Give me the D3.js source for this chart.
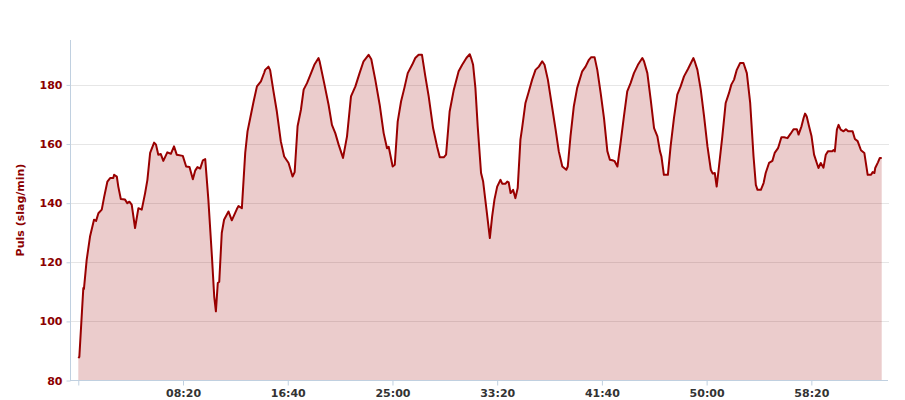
<!DOCTYPE html>
<html>
<head>
<meta charset="utf-8">
<script src="https://cdn.jsdelivr.net/npm/d3@7"></script>
<style>
  html, body { margin: 0; padding: 0; background: #fff; }
  svg { display: block; }
</style>
</head>
<body>
<svg id="chart" width="905" height="400"></svg>
<script>
// Time in seconds since start
const times = [0,5,24,27,40,56,75,85,96,112,124,139,152,167,171,184,191,203,223,234,244,255,271,287,303,319,330,343,362,371,382,394,406,425,442,457,470,499,515,531,547,558,569,582,595,606,621,638,649,657,666,673,685,696,717,733,757,765,781,797,808,821,837,853,872,888,892,908,916,
932,948,967,983,1004,1023,1033,1047,1063,1076,1092,1108,1127,1147,1152,1174,1195,1211,1227,1243,1264,1283,1302,1323,1343,1362,1386,1399,1418,1439,1458,1474,1482,1501,1511,1525,1541,1557,1573,1594,1609,1625,1641,1657,1673,1694,1713,1726,1745,1756,1773,1793,1816,1833,1853,1869,1876,
1885,1896,1907,1923,1933,1949,1965,1976,1987,2000,2016,2024,2040,2048,2055,2064,2076,2087,2098,2111,2119,2135,2151,2167,2183,2199,2215,2226,2242,2263,2279,2294,2311,2330,2337,2350,2366,2382,2406,2422,2438,2449,2465,2478,2494,2510,2526,2538,2550,2561,2574,2589,2605,2621,2637,2653,2672,2693,2701,2717,2733,2749,2765,2777,2784,2796,2815,2828,2844,2860,2876,2892,2911,2937,2943,
2956,2972,2988,3004,3020,3029,3039,3048,3059,3075,3091,3107,3118,3131,3144,3160,3176,3192,3208,3224,3235,3243,3259,3272,3282,3298,3314,3325,3341,3357,3370,3386,3401,3415,3431,3439,3453,3463,3470,3478,3489,3501,3513,3526,3534,3545,3558,3569,3580,3601,3606,3612,3622,3630,3640,3654,3665,3676,3697,3708,3721,3737,3753,3769,3785,3793,3801,3805,3818,3827,3836];

// Heart rate (slag/min)
const pulse = [87.6,88,111.3,111,120.8,128.7,134.4,134,136.6,137.8,142.3,147.3,148.5,148.5,149.6,149,145.6,141.4,141.2,140,140.5,139.5,131.6,138.3,137.8,143.4,147.9,157,160.5,159.8,156.4,156.6,154.3,157.2,156.7,159.2,156.4,156,152.4,152.2,148.1,151,152.2,151.7,154.5,154.9,141.2,122,108.4,103.4,113,113.4,129.9,134.4,137.2,134.2,138,139,138.3,157,164.3,168.8,174.4,179.5,181.2,184.2,185.1,186.2,185,
177.8,171,160.9,155.8,153.6,149,150.5,166,171.6,178.4,180.6,183.4,186.8,189.1,188,180.6,173.3,166.5,163.7,159.8,155.3,162.6,176.1,179.5,184,188,190.2,188.7,181.8,173.3,163.7,158.6,159.1,152.4,153,167.6,174.4,179,184,186.8,189.1,190.2,190.2,182.9,176.1,165.4,159.2,155.5,155.5,156.4,171,178.4,184.6,186.8,189.1,190.4,189,
186.8,179,166,150.2,147.3,137.8,128.2,135.5,141.2,145.6,147.9,146.6,146.6,147.3,147,143.4,144.5,141.7,145.1,161.5,165.4,173.9,177.8,181.8,185.1,186.2,188,186.8,181.8,172.2,164.9,157.6,152.4,151.3,152.4,162.6,172.8,179,184.6,186.2,188.5,189.4,189.4,185.1,177.3,168.8,157.6,154.7,154.5,154.2,152.4,160.3,169.3,177.8,180.6,184,186.8,189.1,188,184,175,165.4,162.6,157.6,155.9,149.6,149.6,159.2,168.8,176.7,179.5,182.9,185.4,189.1,188,
185.1,178.4,169.3,159.2,151.3,150,150.2,145.6,152.4,162.6,173.9,177.3,180.1,181.8,185.1,187.4,187.4,184,173.9,155.8,146.2,144.5,144.5,146.8,150.2,153.6,154.3,157,158.6,162.3,162.3,162,163.5,165,165,163.2,166,168.8,170.3,169.3,166,162.6,156.4,153.6,151.9,153.6,152,156.4,157.6,157.6,158,157.5,164.9,166.5,164.9,164.3,165,164.3,164.3,161.7,161,157.9,157,149.6,149.6,150.5,150.2,151.9,153.8,155.3,155.3];

const xTickValues = [0, 500, 1000, 1500, 2000, 2500, 3000, 3500];
const yTickValues = [80, 100, 120, 140, 160, 180];
const yTitle = "Puls (slag/min)";

const data = times.map((t, i) => ({ t, v: pulse[i] }));

const svg = d3.select("#chart");
const pLeft = 70, pRight = 888, pTop = 40, pBottom = 380.5;

const x = d3.scaleLinear().domain([-39.6, 3866]).range([pLeft, pRight]);
const y = d3.scaleLinear().domain([80, 195.2]).range([pBottom, pTop]);

const fmt = s => {
  if (s === 0) return "";
  const m = Math.floor(s / 60), sec = s % 60;
  return String(m).padStart(2, "0") + ":" + String(sec).padStart(2, "0");
};

// grid lines
svg.append("g").selectAll("line")
  .data(yTickValues.filter(v => v > 80))
  .join("line")
  .attr("x1", pLeft).attr("x2", pRight + 1)
  .attr("y1", d => Math.round(y(d)) + 0.5).attr("y2", d => Math.round(y(d)) + 0.5)
  .attr("stroke", "#e6e6e6").attr("stroke-width", 1);

// area
const area = d3.area().x(d => x(d.t)).y0(y(80)).y1(d => y(d.v));
svg.append("path").datum(data)
  .attr("d", area)
  .attr("fill", "rgba(153,0,0,0.2)");

const line = d3.line().x(d => x(d.t)).y(d => y(d.v));
svg.append("path").datum(data)
  .attr("d", line)
  .attr("fill", "none")
  .attr("stroke", "#990000")
  .attr("stroke-width", 2)
  .attr("stroke-linejoin", "round");

// x axis
const xAxis = svg.append("g").attr("transform", `translate(0,${pBottom})`)
  .call(d3.axisBottom(x).tickValues(xTickValues).tickFormat(fmt).tickSize(5).tickSizeOuter(0));
xAxis.select(".domain").attr("stroke", "#C0D0E0").attr("d", `M${pLeft},0H${pRight}`);
xAxis.selectAll(".tick line").attr("stroke", "#C0D0E0");
xAxis.selectAll(".tick text")
  .attr("y", 9).attr("dy", "0.71em")
  .attr("fill", "#333")
  .style("font-family", "'DejaVu Sans', Verdana, sans-serif")
  .style("font-size", "11px").style("font-weight", "bold");

// y axis
const yAxis = svg.append("g").attr("transform", `translate(${pLeft + 0.5},0)`)
  .call(d3.axisLeft(y).tickValues(yTickValues).tickSize(4).tickSizeOuter(0));
yAxis.select(".domain").attr("stroke", "#C0D0E0").attr("d", `M0,${pTop}V${pBottom}`);
yAxis.selectAll(".tick line").attr("stroke", "#C0D0E0");
yAxis.selectAll(".tick text")
  .attr("x", -8)
  .attr("fill", "#8B0000")
  .style("font-family", "'DejaVu Sans', Verdana, sans-serif")
  .style("font-size", "11px").style("font-weight", "bold");

svg.append("text")
  .attr("transform", `translate(24,210) rotate(-90)`)
  .attr("text-anchor", "middle")
  .attr("fill", "#8B0000")
  .style("font-family", "'DejaVu Sans', Verdana, sans-serif")
  .style("font-size", "11px").style("font-weight", "bold")
  .text(yTitle);
</script>
</body>
</html>
